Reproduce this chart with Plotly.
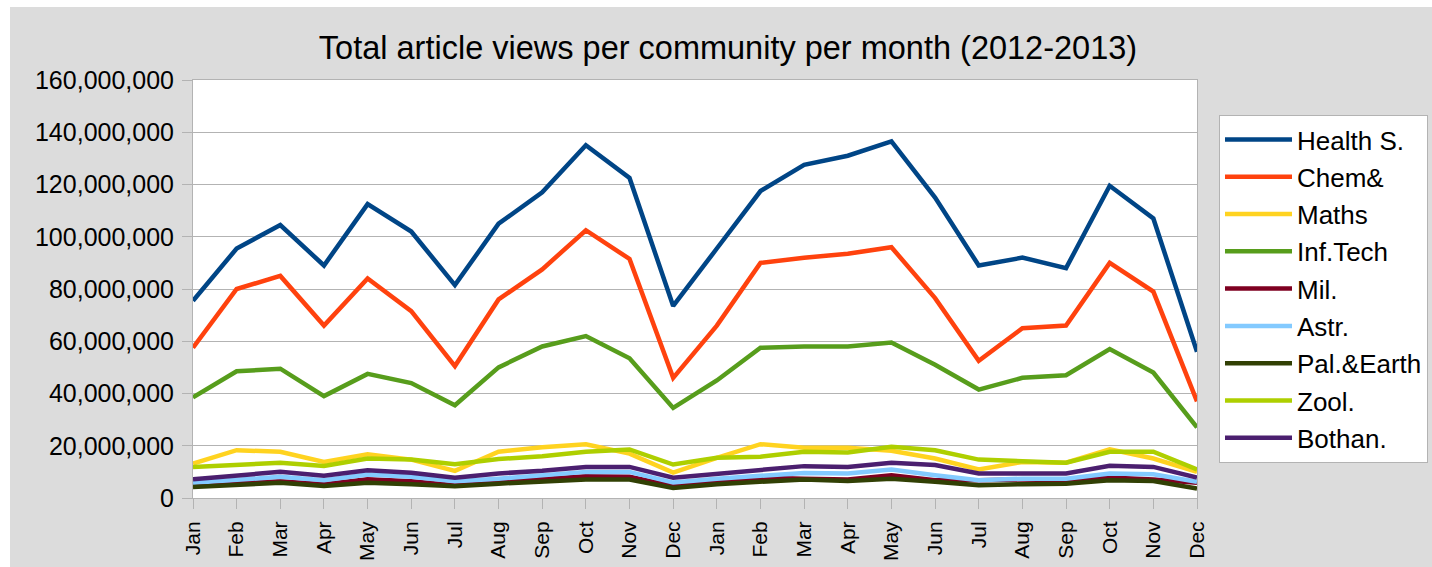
import plotly.graph_objects as go

months = ["Jan", "Feb", "Mar", "Apr", "May", "Jun", "Jul", "Aug", "Sep", "Oct", "Nov", "Dec",
          "Jan", "Feb", "Mar", "Apr", "May", "Jun", "Jul", "Aug", "Sep", "Oct", "Nov", "Dec"]

# values in millions of views
health = [75.5, 95.5, 104.5, 89, 112.5, 102, 81.5, 105, 117, 135, 122.5, 73.5,
          95.5, 117.5, 127.5, 131, 136.5, 115, 89, 92, 88, 119.5, 107, 56]
chem = [57.5, 80, 85, 66, 84, 71.5, 50.5, 76, 87.5, 102.5, 91.5, 46,
        66, 90, 92, 93.5, 96, 76.5, 52.5, 65, 66, 90, 79, 37]
maths = [13.2, 18.3, 17.7, 13.8, 16.7, 14.7, 10.4, 17.7, 19.4, 20.6, 17.0, 9.7,
         15.4, 20.6, 19.2, 19.2, 18.1, 15.1, 10.9, 13.8, 13.5, 18.6, 15.1, 10.0]
inftech = [38.5, 48.5, 49.5, 39, 47.5, 44, 35.5, 50, 58, 62, 53.5, 34.5,
           45, 57.5, 58, 58, 59.5, 51, 41.5, 46, 47, 57, 48, 27]
mil = [4.9, 5.5, 6.4, 5.3, 7.2, 6.4, 4.9, 6.2, 7.1, 8.3, 8.1, 4.6,
       6.2, 7.8, 7.4, 7.1, 8.7, 6.8, 6.8, 7.1, 6.8, 7.8, 7.1, 5.8]
astr = [5.8, 6.8, 8.1, 6.8, 9.0, 8.1, 6.4, 7.4, 8.7, 10.0, 10.0, 5.9,
        7.4, 8.7, 9.6, 9.4, 10.9, 8.7, 6.8, 7.4, 7.4, 9.4, 9.1, 6.2]
palearth = [4.2, 4.9, 5.8, 4.6, 5.8, 5.3, 4.5, 5.5, 6.4, 7.1, 7.1, 3.8,
            5.3, 6.2, 7.1, 6.5, 7.4, 6.2, 4.9, 5.3, 5.5, 6.8, 6.5, 3.6]
zool = [11.9, 12.6, 13.5, 12.3, 15.1, 14.7, 12.9, 14.9, 16.0, 17.7, 18.6, 12.8,
        15.4, 15.8, 17.7, 17.4, 19.6, 18.3, 14.7, 14.1, 13.5, 17.7, 17.7, 10.9]
bothan = [7.2, 8.7, 10.0, 8.5, 10.6, 9.7, 7.8, 9.4, 10.4, 11.9, 11.9, 7.8,
          9.4, 10.6, 12.2, 11.9, 13.5, 12.6, 9.4, 9.4, 9.4, 12.3, 11.9, 7.8]

series_names = ["Health S.", "Chem&", "Maths", "Inf.Tech", "Mil.", "Astr.", "Pal.&Earth", "Zool.", "Bothan."]
series_values = [health, chem, maths, inftech, mil, astr, palearth, zool, bothan]
series_colors = ["#004586", "#ff420e", "#ffd320", "#579d1c", "#7e0021", "#83caff", "#314004", "#aecf00", "#4b1f6f"]

yticks = [0, 20e6, 40e6, 60e6, 80e6, 100e6, 120e6, 140e6, 160e6]

# figure fills the whole window (page margin removed below)
W, H = 1432, 567
L, R, T, B = 193, 1197, 80, 498

x_idx = list(range(len(months)))

fig = go.Figure()
for i, (name, vals, col) in enumerate(zip(series_names, series_values, series_colors)):
    fig.add_trace(go.Scatter(
        x=x_idx, y=[v * 1e6 for v in vals], name=name, mode="lines",
        line=dict(color=col, width=4.5), legendgroup=f"g{i}",
    ))

def px_x(p):
    return (p - L) / (R - L)

def px_y(p):
    return (B - p) / (B - T)

fig.update_layout(
    width=W, height=H,
    margin=dict(l=L, r=W - R, t=T, b=H - B, pad=0, autoexpand=False),
    paper_bgcolor="#dcdcdc",
    plot_bgcolor="#ffffff",
    font=dict(family="Liberation Sans, Arial, sans-serif", color="#000000"),
    title=dict(text="Total article views per community per month (2012-2013)",
               font=dict(size=32.5, color="#000000"),
               x=728 / W, xref="container", xanchor="center",
               y=1 - 48 / H, yref="container", yanchor="middle"),
    xaxis=dict(
        range=[0, len(months) - 1], tickmode="array", tickvals=x_idx, ticktext=months,
        tickangle=-90, tickfont=dict(size=21), ticks="outside", ticklen=10,
        ticklabelstandoff=4, automargin=False,
        tickcolor="#b3b3b3", showgrid=False, showline=True, linecolor="#b3b3b3",
        linewidth=1, mirror=True, zeroline=False,
    ),
    yaxis=dict(
        range=[0, 160e6], tickmode="array", tickvals=yticks, tickformat=",d",
        tickfont=dict(size=25), ticks="outside", ticklen=10, tickcolor="#b3b3b3",
        ticklabelstandoff=3, automargin=False,
        showgrid=True, gridcolor="#b3b3b3", gridwidth=1, showline=True,
        linecolor="#b3b3b3", linewidth=1, mirror=True, zeroline=False,
    ),
    legend=dict(
        x=px_x(1219), y=px_y(115), xanchor="left", yanchor="top",
        bgcolor="#ffffff", bordercolor="#b3b3b3", borderwidth=1,
        font=dict(size=26, color="#000000"), tracegroupgap=0.5, itemwidth=67,
        traceorder="grouped",
    ),
    showlegend=True,
    shapes=[
        dict(type="rect", xref="paper", yref="paper", x0=px_x(-5), x1=px_x(10),
             y0=px_y(H + 5), y1=px_y(-5), fillcolor="#ffffff", line=dict(width=0), layer="above"),
        dict(type="rect", xref="paper", yref="paper", x0=px_x(-5), x1=px_x(W + 5),
             y0=px_y(7), y1=px_y(-5), fillcolor="#ffffff", line=dict(width=0), layer="above"),
    ],
)

fig.write_html(
    "out.html",
    config={"displayModeBar": False},
    post_script="document.body.style.margin='0px';document.body.style.overflow='hidden';",
)
